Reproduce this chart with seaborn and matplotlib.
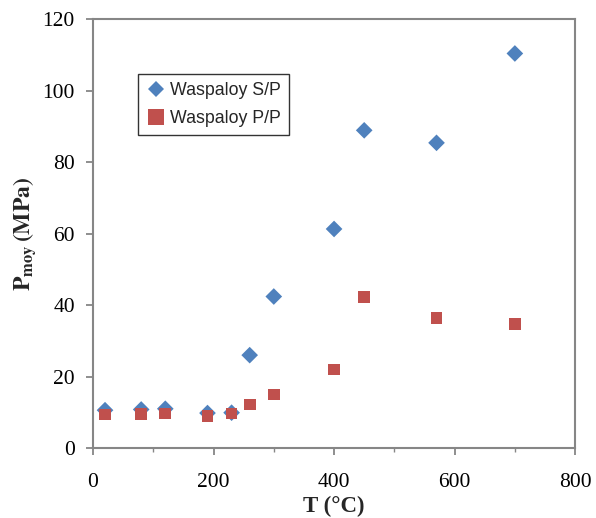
import pandas as pd
import matplotlib
matplotlib.use("Agg")
import matplotlib.pyplot as plt
import seaborn as sns
from matplotlib.ticker import MultipleLocator

temps = [20, 80, 120, 190, 230, 260, 300, 400, 450, 570, 700]
p_sp = [10.6, 10.8, 11.0, 9.8, 9.9, 26.0, 42.4, 61.3, 88.9, 85.4, 110.4]
p_pp = [9.4, 9.5, 9.7, 9.0, 9.7, 12.2, 15.0, 22.0, 42.3, 36.4, 34.7]

sns.set_theme(style="ticks")
plt.rcParams.update({
    "font.family": ["Liberation Serif", "DejaVu Serif"],
    "mathtext.fontset": "stix",
    "axes.edgecolor": "#868686",
    "xtick.color": "#868686",
    "ytick.color": "#868686",
    "xtick.labelcolor": "black",
    "ytick.labelcolor": "black",
})

df = pd.concat([
    pd.DataFrame({"T": temps, "P": p_sp, "serie": "Waspaloy S/P"}),
    pd.DataFrame({"T": temps, "P": p_pp, "serie": "Waspaloy P/P"}),
])

fig = plt.figure(figsize=(5.96, 5.18), dpi=100)
ax = fig.add_axes([0.156, 0.135, 0.809, 0.828])

sns.scatterplot(
    data=df, x="T", y="P", hue="serie", style="serie",
    markers={"Waspaloy S/P": "D", "Waspaloy P/P": "s"},
    palette={"Waspaloy S/P": "#4F81BD", "Waspaloy P/P": "#C0504D"},
    s=90, linewidth=0, ax=ax,
)
for coll, size in zip(ax.collections, [72, 135]):
    coll.set_sizes([size])

ax.set_xlim(0, 800)
ax.set_ylim(0, 120)
ax.set_xticks(range(0, 801, 200))
ax.set_yticks(range(0, 121, 20))
ax.xaxis.set_minor_locator(MultipleLocator(100))
ax.tick_params(which="major", labelsize=15.5, length=5, width=1.3)
ax.tick_params(axis="y", pad=8)
ax.tick_params(axis="x", pad=13)
ax.tick_params(axis="x", which="minor", length=3, width=1.0)
for sp in ax.spines.values():
    sp.set_linewidth(1.5)

ax.set_xlabel("T (°C)", fontsize=16.5, fontweight="bold", labelpad=3)
ax.set_ylabel(r"$\mathbf{P_{moy}}\,\mathbf{(MPa)}$", fontsize=17, labelpad=3)

handles, labels = ax.get_legend_handles_labels()
for h, sz in zip(handles, [8.5, 11.5]):
    h.set_markersize(sz)
leg = ax.legend(handles, labels, loc="upper left", bbox_to_anchor=(0.093, 0.872),
                frameon=True, fancybox=False, edgecolor="black",
                prop={"family": "Liberation Sans", "size": 12.8},
                handletextpad=0.15, borderpad=0.45, labelspacing=0.6,
                handlelength=1.2, borderaxespad=0)
leg.get_frame().set_linewidth(1.0)

fig.savefig("out.png", dpi=100)
